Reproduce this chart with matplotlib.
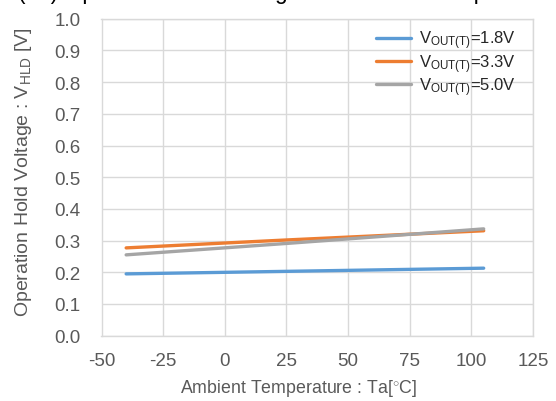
import matplotlib
matplotlib.use("Agg")
import matplotlib.pyplot as plt

plt.rcParams['font.family'] = ['Liberation Sans', 'DejaVu Sans']
plt.rcParams['mathtext.fontset'] = 'custom'
plt.rcParams['mathtext.rm'] = 'Liberation Sans'
plt.rcParams['mathtext.it'] = 'Liberation Sans'
plt.rcParams['axes.unicode_minus'] = False

temps = [-40, 25, 105]
v18 = [0.195, 0.203, 0.213]
v33 = [0.277, 0.302, 0.331]
v50 = [0.255, 0.291, 0.337]
labels = ["1.8V", "3.3V", "5.0V"]
colors = ["#5B9BD5", "#ED7D31", "#A5A5A5"]
xticks = [-50, -25, 0, 25, 50, 75, 100, 125]
yticks = [0.0, 0.1, 0.2, 0.3, 0.4, 0.5, 0.6, 0.7, 0.8, 0.9, 1.0]

txt = "#595959"
W, H = 556, 402
fig = plt.figure(figsize=(W/100, H/100), dpi=100)
x0, x1, y0, y1 = 101.5, 533, 336.7, 19.7
ax = fig.add_axes([x0/W, 1-y0/H, (x1-x0)/W, (y0-y1)/H])

for vals, lab, c in zip([v18, v33, v50], labels, colors):
    ax.plot(temps, vals, color=c, lw=2.4, solid_capstyle='round',
            label=r"V$_{\mathregular{OUT(T)}}$=" + lab)

ax.set_xlim(-50, 125)
ax.set_ylim(0, 1.0)
ax.set_xticks(xticks)
ax.set_yticks(yticks)
ax.set_yticklabels([f"{v:.1f}" for v in yticks])
ax.grid(True, color="#D9D9D9", lw=1.0)
ax.set_axisbelow(True)
for s in ax.spines.values():
    s.set_color("#D9D9D9")
    s.set_linewidth(1.0)
ax.tick_params(length=0, labelsize=13.5, colors=txt)
ax.tick_params(axis='y', pad=15)
ax.tick_params(axis='x', pad=11.5)

ax.set_xlabel("Ambient Temperature : Ta[$^{\\circ}$C]", fontsize=12.8, color=txt)
ax.xaxis.label.set_va('center')
ax.xaxis.set_label_coords((298.5-x0)/(x1-x0), -(389-y0)/(y0-y1))
ax.set_ylabel(r"Operation Hold Voltage : V$_{\mathregular{HLD}}$ [V]", fontsize=14, color=txt)
ax.yaxis.label.set_va('center')
ax.yaxis.set_label_coords(-(x0-24)/(x1-x0), 0.52)

leg = ax.legend(loc='upper right', bbox_to_anchor=(0.975, 0.99), frameon=False,
                fontsize=12, labelcolor="#262626", handlelength=2.1,
                handletextpad=0.45, labelspacing=0.05, borderaxespad=0)

fig.text(18/W, 1.0 + 1.5/H, "(10) Operation Hold Voltage vs. Ambient Temperature",
         fontsize=16.4, va='baseline', ha='left', color="#000000")

fig.savefig("out.png", dpi=100)
